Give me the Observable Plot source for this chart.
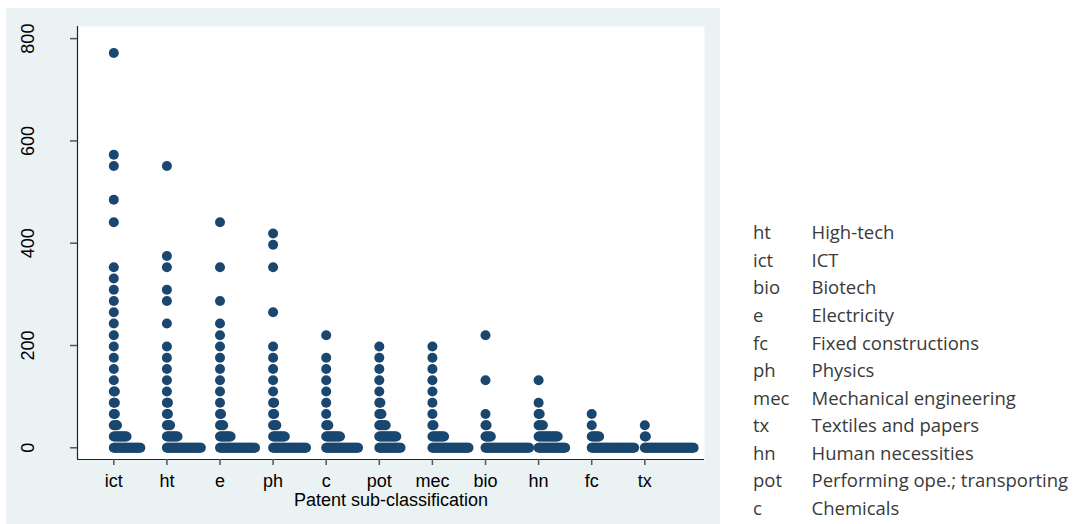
<!DOCTYPE html>
<html>
<head>
<meta charset="utf-8">
<script src="https://cdn.jsdelivr.net/npm/d3@7"></script>
<script src="https://cdn.jsdelivr.net/npm/@observablehq/plot@0.6"></script>
<style>
  body { margin: 0; background: white; }
  #wrap { position: relative; width: 1075px; height: 524px; background: white; overflow: hidden; }
  #panel { position: absolute; left: 6px; top: 8px; width: 714px; height: 516px; background: #eaf2f3; }
  #chart { position: absolute; left: 0; top: 0; }
  #legend { position: absolute; left: 0; top: 0; font-family: "Open Sans", Lato, sans-serif; font-size: 18.5px; color: #3a3a3a; }
  #legend .row { position: absolute; height: 27.57px; line-height: 27.57px; white-space: nowrap; }
  #legend .code { position: absolute; left: 753px; }
  #legend .name { position: absolute; left: 811.5px; }
</style>
</head>
<body>
<div id="wrap">
  <div id="panel"></div>
  <div id="chart"></div>
  <div id="legend"></div>
</div>
<script>
// Categories in x order
const categories = ["ict", "ht", "e", "ph", "c", "pot", "mec", "bio", "hn", "fc", "tx"];

// [value, number of stacked dots in that bin] for each category
const ict = [[0,26],[22,13],[44,4],[66,2],[88,2],[110,2],[132,1],[154,1],[176,1],[198,1],[220,1],[243,1],[265,1],[287,1],[309,1],[331,1],[353,1],[441,1],[485,1],[551,1],[573,1],[772,1]];
const ht  = [[0,33],[22,11],[44,4],[66,2],[88,2],[110,1],[132,1],[154,1],[176,1],[198,1],[243,1],[287,1],[309,1],[353,1],[375,1],[551,1]];
const e   = [[0,34],[22,11],[44,4],[66,2],[88,1],[110,1],[132,1],[154,1],[176,1],[198,1],[220,1],[243,1],[287,1],[353,1],[441,1]];
const ph  = [[0,32],[22,12],[44,4],[66,2],[88,2],[110,1],[132,1],[154,1],[176,1],[198,1],[265,1],[353,1],[397,1],[419,1]];
const c   = [[0,31],[22,14],[44,3],[66,1],[88,1],[110,1],[132,1],[154,1],[176,1],[220,1]];
const pot = [[0,21],[22,17],[44,7],[66,3],[88,2],[110,1],[132,1],[154,1],[176,1],[198,1]];
const mec = [[0,35],[22,12],[44,2],[66,1],[88,1],[110,1],[132,1],[154,1],[176,1],[198,1]];
const bio = [[0,42],[22,6],[44,2],[66,1],[132,1],[220,1]];
const hn  = [[0,26],[22,19],[44,5],[66,2],[88,1],[132,1]];
const fc  = [[0,41],[22,8],[44,1],[66,1]];
const tx  = [[0,47],[22,2],[44,1]];
const seriesList = [ict, ht, e, ph, c, pot, mec, bio, hn, fc, tx];

const yTicks = [0, 200, 400, 600, 800];
const xTitle = "Patent sub-classification";

const legendCodes = ["ht", "ict", "bio", "e", "fc", "ph", "mec", "tx", "hn", "pot", "c"];
const legendNames = ["High-tech", "ICT", "Biotech", "Electricity", "Fixed constructions", "Physics",
  "Mechanical engineering", "Textiles and papers", "Human necessities", "Performing ope.; transporting", "Chemicals"];

// horizontal spacing between stacked dots, in category units
const dotStep = 0.02;

const dots = [];
seriesList.forEach((rows, i) => {
  rows.forEach(([value, count]) => {
    for (let k = 0; k < count; ++k) dots.push({x: i + 1 + k * dotStep, y: value});
  });
});

const xIdx = categories.map((_, i) => i + 1);

const chart = Plot.plot({
  width: 1075,
  height: 524,
  marginLeft: 77,
  marginRight: 371,
  marginTop: 26,
  marginBottom: 65,
  style: {background: "transparent", fontFamily: "'Liberation Sans', Arial, Helvetica, sans-serif", fontSize: "18px", color: "#000"},
  x: {domain: [0.3164, 12.124], axis: null},
  y: {domain: [-22.9, 823.7], axis: null},
  marks: [
    Plot.frame({fill: "white", stroke: null}),
    Plot.ruleX([0.3164], {stroke: "#222", strokeWidth: 1.2}),
    Plot.ruleY([-22.9], {stroke: "#222", strokeWidth: 1.2}),
    Plot.axisY({ticks: yTicks, tickSize: 7, tickRotate: -90, tickPadding: 36.5, label: null, stroke: "#555", strokeWidth: 1.5, fill: "#000", fontSize: 18}),
    Plot.axisX({ticks: xIdx, tickFormat: (d) => categories[d - 1], tickSize: 6, tickPadding: 8.7, label: null, stroke: "#555", strokeWidth: 1.5, fill: "#000", fontSize: 18}),
    Plot.text([xTitle], {frameAnchor: "bottom", dy: 40.9, lineAnchor: "middle", textAnchor: "middle", fontSize: 18, fill: "#000"}),
    Plot.dot(dots, {x: "x", y: "y", r: 5, fill: "#1a476f", stroke: "none"})
  ]
});
document.getElementById("chart").appendChild(chart);

const legend = document.getElementById("legend");
legendCodes.forEach((code, i) => {
  const row = document.createElement("div");
  row.className = "row";
  row.style.top = (218.3 + i * 27.57) + "px";
  const a = document.createElement("span");
  a.className = "code";
  a.textContent = code;
  const b = document.createElement("span");
  b.className = "name";
  b.textContent = legendNames[i];
  row.appendChild(a);
  row.appendChild(b);
  legend.appendChild(row);
});
</script>
</body>
</html>
